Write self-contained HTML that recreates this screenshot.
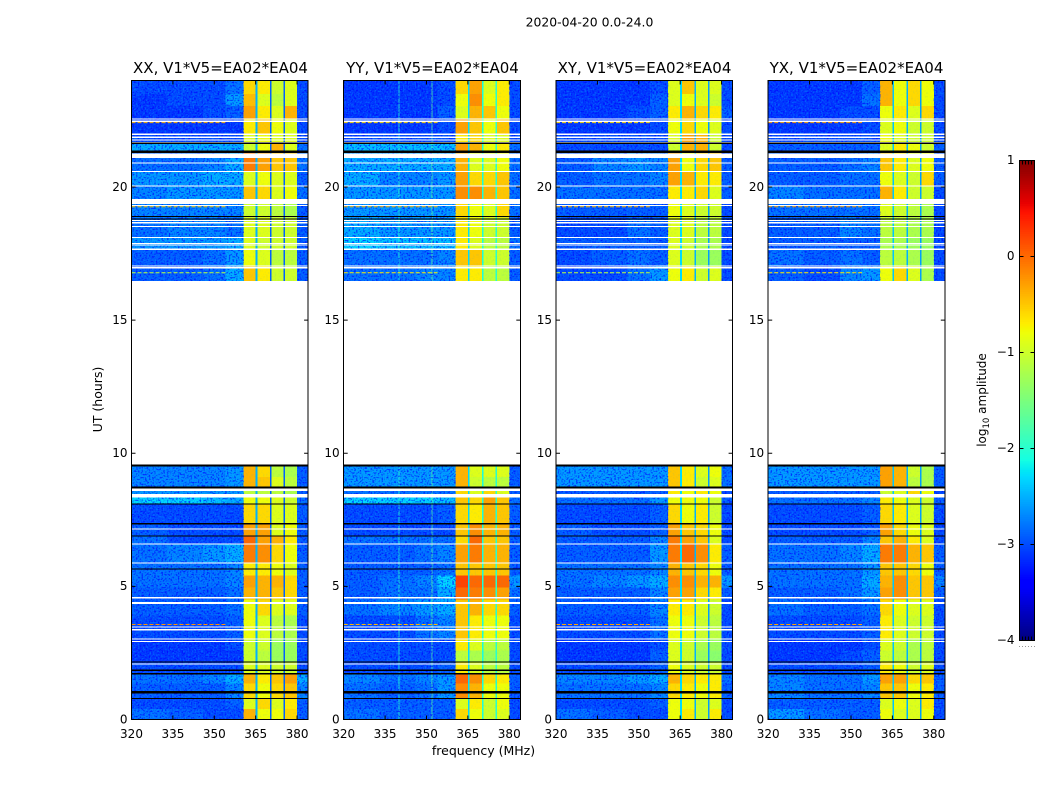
<!DOCTYPE html>
<html lang="en">
<head>
<meta charset="utf-8">
<title>2020-04-20 0.0-24.0 amplitude waterfall</title>
<style>
html,body{margin:0;padding:0;background:#fff;width:1050px;height:800px;overflow:hidden}
svg{display:block}
text{font-family:"DejaVu Sans","Liberation Sans",sans-serif;fill:#000}
.tick-label{font-size:12px}
.panel-title{font-size:15px;text-anchor:middle}
.axis-title{font-size:12.5px;text-anchor:middle}
</style>
</head>
<body>
<svg xmlns="http://www.w3.org/2000/svg" width="1050" height="800" viewBox="0 0 1050 800">
  <defs>
    <filter id="speckle-dark" x="0" y="0" width="100%" height="100%" color-interpolation-filters="sRGB">
      <feTurbulence type="fractalNoise" baseFrequency="0.55 0.62" numOctaves="1" seed="4"/>
      <feColorMatrix type="matrix" values="0 0 0 0 0  0 0 0 0 0  0 0 0 0 1  5 0 0 0 -2.45"/>
    </filter>
    <filter id="speckle-light" x="0" y="0" width="100%" height="100%" color-interpolation-filters="sRGB">
      <feTurbulence type="fractalNoise" baseFrequency="0.6 0.55" numOctaves="1" seed="11"/>
      <feColorMatrix type="matrix" values="0 0 0 0 0  0 0 0 0 0.62  0 0 0 0 1  0 5 0 0 -2.5"/>
    </filter>
  </defs>
  <text x="589.5" y="26.5" font-size="12.4" text-anchor="middle">2020-04-20 0.0-24.0</text>
  <g id="panel-xx"><text class="panel-title" x="220.5" y="73">XX, V1*V5=EA02*EA04</text></g>
  <g id="panel-yy"><text class="panel-title" x="432.5" y="73">YY, V1*V5=EA02*EA04</text></g>
  <g id="panel-xy"><text class="panel-title" x="644.5" y="73">XY, V1*V5=EA02*EA04</text></g>
  <g id="panel-yx"><text class="panel-title" x="856.5" y="73">YX, V1*V5=EA02*EA04</text></g>
  <text class="axis-title" x="483.5" y="755">frequency (MHz)</text>
  <text class="axis-title" transform="translate(102,399.5) rotate(-90)">UT (hours)</text>
  <text class="axis-title" transform="translate(986,400) rotate(-90)" font-size="12" style="font-size:12px">log<tspan font-size="8.5" dy="3">10</tspan><tspan dy="-3"> amplitude</tspan></text>
  <g id="colorbar"></g>
</svg>
<script>
// Frequency column edges (MHz) and time row edges (UT hours) of the heatmap blocks
const frequencyEdges = [320,333,346,354,360.6,365.3,370.4,375.3,380,384];
const rowHoursStart = [24,23.5,23.05,22.55,22,21.64,21.3,20.6,20.05,19.5,18.85,18.1,17.66,17.05,9.55,9.1,8.72,8.34,8.08,7.35,6.87,6.59,5.88,5.4,4.95,4.5,3.9,3,2.6,2.15,1.75,1.35,0.8,0.4];
const rowHoursEnd = [23.5,23.05,22.55,22,21.64,21.3,20.6,20.05,19.5,18.85,18.1,17.66,17.05,16.47,9.1,8.72,8.34,8.08,7.35,6.87,6.59,5.88,5.4,4.95,4.5,3.9,3,2.6,2.15,1.75,1.35,0.8,0.4,0];

// log10 amplitude for each row and frequency column
const xxValues = [
[-3,-3,-3,-2.8,-0.6,-0.7,-1,-0.9,-3],
[-3.1,-3,-3,-2.6,-0.45,-0.9,-1.1,-0.9,-3],
[-3.1,-3.1,-3,-2.9,-0.3,-0.7,-0.9,-0.4,-3],
[-3.1,-3.1,-3.1,-3.1,-0.7,-0.5,-0.8,-0.9,-3],
[-3,-3,-3,-3,-0.9,-0.8,-0.9,-0.9,-3],
[-2.5,-2.5,-2.5,-2.5,-1,-0.8,-0.4,-0.9,-2.8],
[-2.8,-2.8,-2.7,-2.5,-0.1,-0.3,-0.5,-0.5,-2.8],
[-2.6,-2.6,-2.5,-2.5,-0.9,-0.8,-0.9,-0.9,-2.9],
[-2.7,-2.6,-2.6,-2.6,-0.5,-0.6,-0.9,-0.8,-2.8],
[-2.7,-2.7,-2.7,-2.7,-1,-1,-1.1,-1.2,-2.9],
[-2.8,-2.7,-2.7,-2.8,-0.9,-0.9,-1,-1,-2.9],
[-2.6,-2.6,-2.6,-2.5,-0.9,-1,-1,-1,-2.9],
[-2.9,-2.9,-2.8,-2.6,-0.8,-0.9,-1.1,-1.1,-2.9],
[-2.9,-2.9,-2.8,-2.5,-0.5,-0.7,-1,-1,-2.9],
[-2.7,-2.7,-2.7,-2.6,-0.4,-0.6,-1.1,-1.2,-2.9],
[-2.7,-2.7,-2.7,-2.6,-0.4,-0.5,-0.9,-1.1,-2.9],
[-2.6,-2.6,-2.6,-2.6,-1.1,-1.1,-1.1,-1.2,-2.9],
[-2.3,-2.3,-2.4,-2.5,-0.8,-0.8,-0.9,-1,-2.8],
[-3,-3,-3,-3,-0.6,-0.6,-0.9,-0.9,-2.9],
[-2.9,-3,-3,-3,-0.3,-0.3,-0.9,-0.8,-2.9],
[-2.8,-3,-3,-3,0,-0.3,-0.4,-0.7,-2.9],
[-2.8,-2.7,-2.6,-2.5,-0.1,-0.2,-0.6,-0.8,-2.9],
[-2.8,-2.8,-2.8,-2.7,-0.7,-0.7,-0.8,-0.9,-2.9],
[-2.8,-2.8,-2.8,-2.7,-0.3,-0.4,-0.4,-0.6,-2.9],
[-2.9,-2.9,-2.9,-2.8,-0.4,-0.4,-0.5,-0.6,-2.9],
[-2.9,-2.9,-2.9,-2.8,-0.8,-0.6,-0.9,-0.9,-2.9],
[-3,-3,-3,-2.9,-0.8,-0.9,-1.1,-1.2,-3],
[-3.1,-3.1,-3.1,-3,-1,-1,-1.3,-1.3,-3],
[-3.1,-3.1,-3.1,-3.1,-1,-1.1,-1.3,-1.3,-3],
[-3,-3,-3,-3,-0.9,-0.9,-1,-1,-3],
[-2.8,-2.8,-2.7,-2.5,-0.4,-0.7,-0.5,-0.3,-2.5],
[-2.9,-2.9,-2.9,-2.7,-0.6,-0.8,-0.6,-0.5,-2.7],
[-3,-3,-3,-2.9,-0.9,-0.6,-0.9,-0.7,-2.9],
[-2.8,-2.9,-3,-3,-0.4,-0.8,-0.8,-0.6,-2.9]];
const yyValues = [
[-3.1,-3.1,-3.1,-3,-0.6,-0.3,-0.9,-0.7,-3],
[-3.1,-3.1,-3.1,-3,-0.8,-0.2,-0.8,-0.7,-3],
[-3.1,-3.1,-3.1,-2.9,-0.9,-0.4,-0.5,-0.8,-3],
[-3.1,-3.1,-3.1,-3,-0.3,-0.5,-0.8,-0.5,-3],
[-3,-3,-3,-3,-0.7,-0.6,-0.9,-0.9,-3],
[-2.4,-2.4,-2.4,-2.4,-0.3,-0.4,-0.8,-0.7,-2.8],
[-2.5,-2.5,-2.5,-2.5,-0.4,-0.9,-0.9,-0.8,-2.8],
[-2.5,-2.7,-2.7,-2.6,-0.3,-0.6,-0.6,-0.5,-2.8],
[-2.6,-2.6,-2.6,-2.6,-0.2,-0.2,-0.4,-0.5,-2.8],
[-2.6,-2.6,-2.6,-2.6,-0.6,-0.8,-0.9,-0.6,-2.8],
[-2.5,-2.6,-2.6,-2.6,-0.7,-0.8,-1,-1,-2.9],
[-2.3,-2.4,-2.4,-2.4,-0.7,-0.9,-1.1,-1.1,-2.8],
[-2.8,-2.8,-2.8,-2.7,-0.5,-0.5,-1,-1,-2.9],
[-2.8,-2.8,-2.7,-2.7,-0.7,-0.7,-1.1,-1.1,-2.9],
[-2.6,-2.6,-2.6,-2.6,-0.4,-0.9,-0.9,-0.9,-2.9],
[-2.6,-2.6,-2.6,-2.6,-0.4,-1,-1.1,-1.1,-2.9],
[-2.8,-2.8,-2.8,-2.8,-0.6,-0.9,-0.6,-0.9,-2.9],
[-2.3,-2.3,-2.3,-2.4,-0.5,-0.6,-0.3,-0.5,-2.8],
[-3,-3,-3,-2.9,-0.6,-0.7,-0.4,-0.5,-2.9],
[-3,-3,-3,-3,-0.5,-0.2,-0.4,-0.4,-2.9],
[-2.8,-2.8,-2.8,-2.8,-0.6,0,-0.5,-0.5,-2.9],
[-2.9,-2.9,-2.8,-2.7,-0.3,-0.1,-0.4,-0.4,-2.9],
[-2.9,-2.9,-2.9,-2.8,-0.5,-0.5,-0.5,-0.5,-2.9],
[-2.9,-2.8,-2.7,-2.3,0.2,0,0,0,-2.6],
[-2.9,-2.8,-2.8,-2.5,0,-0.1,-0.2,-0.3,-2.8],
[-2.8,-2.7,-2.6,-2.5,-0.5,-0.4,-0.6,-0.6,-2.9],
[-3,-3,-2.8,-2.7,-0.5,-0.7,-0.8,-0.8,-3],
[-3,-3,-3,-3,-0.7,-0.9,-1.1,-1.1,-3],
[-3,-3,-3,-3,-1.1,-1.2,-1.3,-1.2,-3],
[-3,-3,-3,-2.9,-0.7,-0.9,-1.1,-1.1,-3],
[-2.7,-2.8,-2.7,-2.6,0,-0.2,-0.6,-0.7,-2.9],
[-2.8,-2.9,-2.8,-2.6,-0.2,-0.4,-0.8,-0.8,-2.9],
[-2.9,-2.9,-2.9,-2.9,-0.9,-0.7,-1,-0.8,-3],
[-2.8,-2.9,-2.9,-2.9,-0.6,-0.8,-1,-0.9,-3]];
const xyValues = [
[-3.1,-3.1,-3.1,-3,-0.9,-0.5,-0.9,-0.9,-3],
[-3.1,-3.1,-3.1,-2.9,-0.9,-0.8,-0.9,-1,-3],
[-3.1,-3.1,-3,-2.9,-0.7,-0.4,-0.6,-0.7,-2.9],
[-3.1,-3.1,-3.1,-3,-0.8,-0.6,-0.8,-0.9,-3],
[-3,-3,-3,-3,-0.9,-0.3,-0.4,-1,-3],
[-3,-3,-3,-3,-1,-0.4,-0.4,-1,-3],
[-2.9,-2.7,-2.6,-2.7,-0.3,-0.8,-0.6,-0.5,-2.9],
[-2.9,-2.8,-2.8,-2.7,-0.3,-0.4,-0.7,-0.7,-2.9],
[-2.8,-2.8,-2.8,-2.8,-0.7,-0.7,-0.6,-0.9,-2.9],
[-2.9,-2.9,-2.9,-2.9,-0.8,-0.9,-1,-1,-3],
[-3,-3,-2.8,-2.9,-0.9,-0.9,-1.1,-1.1,-3],
[-2.9,-2.9,-2.9,-2.9,-0.9,-1,-1.2,-1.2,-3],
[-3,-2.9,-2.8,-2.9,-0.9,-1,-1.3,-1.3,-3],
[-3,-3,-2.8,-2.6,-0.8,-0.7,-1,-0.9,-3],
[-2.6,-2.6,-2.6,-2.6,-0.5,-0.7,-0.9,-0.8,-2.8],
[-2.6,-2.6,-2.6,-2.6,-0.5,-0.7,-1,-0.9,-2.8],
[-2.9,-2.9,-2.9,-2.9,-0.7,-0.8,-0.7,-0.8,-3],
[-2.8,-2.8,-2.8,-2.6,-0.8,-0.8,-0.8,-1,-2.9],
[-3,-3,-3,-2.9,-0.6,-0.8,-0.7,-1,-3],
[-2.9,-3,-3,-2.9,-0.3,-0.5,-0.6,-0.8,-3],
[-2.9,-2.9,-2.9,-2.7,-0.1,-0.3,-0.5,-0.9,-3],
[-2.9,-2.9,-2.9,-2.6,-0.1,0,-0.2,-0.7,-2.9],
[-2.8,-2.8,-2.8,-2.7,-0.4,-0.5,-0.6,-0.8,-2.9],
[-2.8,-2.7,-2.6,-2.5,-0.2,-0.2,-0.4,-0.4,-2.6],
[-2.9,-2.9,-2.9,-2.7,-0.3,-0.3,-0.6,-0.7,-2.9],
[-2.9,-2.9,-2.9,-2.7,-0.7,-0.7,-0.9,-1,-3],
[-3,-3,-3,-2.8,-0.8,-0.8,-1,-1.1,-3],
[-3.1,-3.1,-3.1,-3,-0.9,-1,-1.2,-1.3,-3],
[-3.1,-3.1,-3.1,-2.9,-0.9,-1,-1.3,-1.4,-3],
[-3,-3,-3,-2.9,-0.8,-0.9,-1,-1,-3],
[-2.7,-2.7,-2.6,-2.5,-0.4,-0.6,-0.7,-0.7,-2.8],
[-2.8,-2.8,-2.8,-2.7,-0.6,-0.7,-0.8,-0.7,-2.9],
[-3,-3,-3,-2.9,-0.8,-0.8,-1,-0.9,-3],
[-2.8,-2.9,-3,-3,-0.8,-0.7,-1,-0.7,-3]];
const yxValues = [
[-3.1,-3.1,-3.1,-2.9,-0.4,-0.8,-0.6,-0.8,-3],
[-3.1,-3.1,-3.1,-2.8,-0.4,-0.8,-0.6,-0.8,-3],
[-3.1,-3.1,-3,-3,-0.8,-0.7,-0.9,-0.6,-3],
[-3.1,-3.1,-3.1,-3,-0.9,-0.8,-1,-1,-3],
[-3,-3,-3,-3,-0.8,-0.9,-1,-1,-3],
[-2.9,-2.9,-2.9,-2.9,-0.9,-0.7,-0.8,-1,-2.9],
[-2.9,-2.9,-2.8,-2.7,-0.5,-0.7,-0.9,-0.8,-2.9],
[-2.9,-2.9,-2.8,-2.8,-0.8,-0.9,-1,-0.6,-2.9],
[-2.7,-2.8,-2.8,-2.8,-0.4,-0.7,-1,-1,-3],
[-2.8,-2.8,-2.8,-2.8,-0.9,-1,-1.1,-1.2,-3],
[-2.9,-2.9,-2.7,-2.8,-1.1,-1.1,-1.2,-1.2,-3],
[-2.9,-2.9,-2.9,-2.9,-1.2,-1.2,-1.3,-1.3,-3],
[-2.8,-2.9,-2.8,-2.9,-1.1,-1.1,-1.2,-1.3,-3],
[-2.9,-3,-2.7,-2.6,-0.8,-0.6,-0.9,-1.2,-3],
[-2.6,-2.6,-2.6,-2.6,-0.3,-0.4,-1,-1.2,-2.9],
[-2.6,-2.6,-2.6,-2.6,-0.3,-0.4,-1.1,-1.2,-2.9],
[-2.9,-2.9,-2.9,-2.9,-1,-0.9,-0.6,-0.8,-3],
[-2.8,-2.8,-2.8,-2.7,-0.7,-0.8,-0.9,-1,-2.9],
[-3,-3,-3,-2.9,-0.6,-0.7,-0.9,-1,-3],
[-3,-3,-3,-2.9,-0.3,-0.6,-0.8,-0.9,-3],
[-2.9,-2.9,-2.9,-2.7,-0.5,-0.4,-0.7,-0.9,-3],
[-2.8,-2.8,-2.7,-2.5,-0.1,-0.1,-0.4,-0.5,-2.9],
[-2.8,-2.8,-2.8,-2.6,-0.5,-0.5,-0.6,-0.8,-2.9],
[-2.8,-2.8,-2.8,-2.5,-0.4,-0.2,-0.5,-0.5,-2.7],
[-2.9,-2.9,-2.8,-2.6,-0.3,-0.2,-0.5,-0.5,-2.9],
[-2.8,-2.9,-2.9,-2.8,-0.6,-0.8,-0.9,-0.9,-3],
[-3,-3,-3,-2.9,-0.7,-0.9,-1,-1,-3],
[-3.1,-3.1,-3.1,-3,-0.9,-1,-1.2,-1.1,-3],
[-3.1,-3.1,-3,-2.9,-1,-1.1,-1.2,-1.1,-3],
[-3,-3,-3,-2.9,-0.7,-0.8,-1,-0.9,-3],
[-2.7,-2.8,-2.8,-2.6,-0.3,-0.3,-0.6,-0.5,-2.9],
[-2.7,-2.8,-2.8,-2.7,-0.5,-0.5,-0.8,-0.7,-2.9],
[-2.9,-2.9,-2.9,-2.9,-0.9,-0.8,-0.9,-0.7,-3],
[-2.6,-2.8,-2.9,-2.9,-0.8,-0.9,-0.9,-0.8,-3]];

// Narrow channel gaps between spectral windows: centres (MHz) and per-panel values
const gapFrequencies = [365.3,370.4,375.3];
const xxGapValues = [-2.5,-2.9,-2.9];
const yyGapValues = [-2.3,-2.1,-2.0];
const xyGapValues = [-2.3,-2.5,-2.6];
const yxGapValues = [-2.4,-2.5,-2.6];

// Persistent narrow-band channels seen in YY
const yyRfiFrequencies = [340,352];
const yyRfiValues = [-2.0,-1.7];

// Short bursts of strong broadband interference (UT hours) and per-panel amplitudes
const burstHours = [22.42,19.26,16.78,3.57];
const xxBurstValues = [-0.4,-0.5,-1.1,-0.2];
const yyBurstValues = [-0.6,-0.4,-0.7,-0.4];
const xyBurstValues = [-0.6,-0.4,-1.1,-0.3];
const yxBurstValues = [-0.3,-0.3,-0.7,-0.3];

// Flagged integrations (UT hours)
const whiteLineHours = [22.55,22.47,21.98,21.87,21.77,21.67,20.9,20.58,20.04,19.3,18.74,18.66,18.52,18.1,17.88,17.82,17.66,17.03,16.97,7.15,6.59,5.88,4.57,3.47,3.37,3.02,2.93,2.09];
const whiteBandStart = [21.26,19.54,16.47,8.68,8.47,4.42];
const whiteBandEnd = [21.08,19.36,9.55,8.58,8.33,4.34];
const blackLineHours = [21.64,18.89,18.8,9.55,8.72,8.09,7.35,6.89,5.65,2.16,1.85,1.72,1.04,0.79];
const blackBandStart = [21.37,9.58,8.74,1.07];
const blackBandEnd = [21.28,9.5,8.68,0.98];

// Axis ticks and colour bar
const frequencyTicks = [320,335,350,365,380];
const hourTicks = [0,5,10,15,20];
const colorbarTicks = [-4,-3,-2,-1,0,1];

const panelIds = ['xx','yy','xy','yx'];
const panelLefts = [131.5,343.7,556,768.2];
const panelWidth = 176.6;
const plotTop = 80.5;
const plotBottom = 719.5;
const freqMin = 320;
const freqMax = 384;
const hourMin = 0;
const hourMax = 24;
const ampMin = -4;
const ampMax = 1;
const cbLeft = 1019.5;
const cbRight = 1034.5;
const cbTop = 160.5;
const cbBottom = 640.5;
const SVGNS = 'http://www.w3.org/2000/svg';

function xScale(freq, left) {
  return left + (freq - freqMin) / (freqMax - freqMin) * panelWidth;
}
function yScale(hour) {
  return plotBottom - (hour - hourMin) / (hourMax - hourMin) * (plotBottom - plotTop);
}
function ampScale(v) {
  return cbBottom - (v - ampMin) / (ampMax - ampMin) * (cbBottom - cbTop);
}
function lerpSegments(t, knots) {
  for (let i = 1; i < knots.length; i++) {
    if (t <= knots[i][0]) {
      const a = knots[i - 1];
      const b = knots[i];
      return a[1] + (b[1] - a[1]) * (t - a[0]) / (b[0] - a[0]);
    }
  }
  return knots[knots.length - 1][1];
}
function jet(v) {
  const t = Math.max(0, Math.min(1, (v - ampMin) / (ampMax - ampMin)));
  const r = lerpSegments(t, [[0,0],[0.35,0],[0.66,1],[0.89,1],[1,0.5]]);
  const g = lerpSegments(t, [[0,0],[0.125,0],[0.375,1],[0.64,1],[0.91,0],[1,0]]);
  const b = lerpSegments(t, [[0,0.5],[0.11,1],[0.34,1],[0.65,0],[1,0]]);
  return 'rgb(' + Math.round(r * 255) + ',' + Math.round(g * 255) + ',' + Math.round(b * 255) + ')';
}
function makeRect(parent, x, y, w, h, fill) {
  const el = document.createElementNS(SVGNS, 'rect');
  el.setAttribute('x', x);
  el.setAttribute('y', y);
  el.setAttribute('width', w);
  el.setAttribute('height', h);
  el.setAttribute('fill', fill);
  el.setAttribute('shape-rendering', 'crispEdges');
  parent.appendChild(el);
  return el;
}
function makeLine(parent, x1, y1, x2, y2) {
  const el = document.createElementNS(SVGNS, 'line');
  el.setAttribute('x1', x1);
  el.setAttribute('y1', y1);
  el.setAttribute('x2', x2);
  el.setAttribute('y2', y2);
  el.setAttribute('stroke', '#000');
  el.setAttribute('stroke-width', '1');
  parent.appendChild(el);
  return el;
}
function makeText(parent, x, y, anchor, content) {
  const el = document.createElementNS(SVGNS, 'text');
  el.setAttribute('x', x);
  el.setAttribute('y', y);
  el.setAttribute('text-anchor', anchor);
  el.setAttribute('class', 'tick-label');
  el.textContent = content;
  parent.appendChild(el);
  return el;
}
function tickText(v) {
  return v < 0 ? '\u2212' + Math.abs(v) : String(v);
}
function addTexture(g, x0, x1, filterId, opacity) {
  const layer = makeRect(g, x0, plotTop, x1 - x0, plotBottom - plotTop, '#000');
  layer.setAttribute('filter', 'url(#' + filterId + ')');
  layer.setAttribute('opacity', opacity);
  
  
}

function drawPanel(index, values, gapValues, rfiFreqs, rfiValues, burstValues) {
  const id = panelIds[index];
  const left = panelLefts[index];
  const right = left + panelWidth;
  const g = document.getElementById('panel-' + id);

  values.forEach(function (row, r) {
    row.forEach(function (v, c) {
      const x0 = xScale(frequencyEdges[c], left);
      const x1 = xScale(frequencyEdges[c + 1], left);
      const y0 = yScale(rowHoursStart[r]);
      const y1 = yScale(rowHoursEnd[r]);
      const cell = makeRect(g, x0, y0, x1 - x0 + 0.3, y1 - y0 + 0.3, jet(v));
      
      
    });
  });

  gapFrequencies.forEach(function (f, i) {
    const gap = makeRect(g, xScale(f, left) - 0.8, yScale(24), 1.6, yScale(0) - yScale(24), jet(gapValues[i]));
    
    
  });

  rfiFreqs.forEach(function (f, i) {
    const rfi = makeRect(g, xScale(f, left) - 0.5, yScale(24), 1, yScale(0) - yScale(24), jet(rfiValues[i]));
    rfi.setAttribute('opacity', '0.8');
    
    
  });

  const bgEnd = xScale(frequencyEdges[4], left);
  const rightStart = xScale(frequencyEdges[8], left);
  addTexture(g, left, bgEnd, 'speckle-dark', '0.7');
  addTexture(g, left, bgEnd, 'speckle-light', '0.4');
  addTexture(g, rightStart, right, 'speckle-dark', '0.7');
  addTexture(g, rightStart, right, 'speckle-light', '0.35');
  addTexture(g, bgEnd, rightStart, 'speckle-light', '0.07');

  burstHours.forEach(function (h, i) {
    const burst = makeLine(g, left, yScale(h), xScale(354, left), yScale(h));
    burst.setAttribute('stroke', jet(burstValues[i]));
    burst.setAttribute('stroke-dasharray', '4 2');
    
    
  });

  whiteLineHours.forEach(function (h) {
    const flag = makeRect(g, left, yScale(h) - 0.6, panelWidth, 1.2, '#fff');
    
    
  });
  whiteBandStart.forEach(function (h, i) {
    const flag = makeRect(g, left, yScale(h), panelWidth, yScale(whiteBandEnd[i]) - yScale(h), '#fff');
    
    
  });
  blackLineHours.forEach(function (h) {
    const flag = makeRect(g, left, yScale(h) - 0.6, panelWidth, 1.2, '#000');
    
    
  });
  blackBandStart.forEach(function (h, i) {
    const flag = makeRect(g, left, yScale(h), panelWidth, yScale(blackBandEnd[i]) - yScale(h), '#000');
    
    
  });

  const frame = makeRect(g, left, plotTop, panelWidth, plotBottom - plotTop, 'none');
  frame.setAttribute('stroke', '#000');
  frame.setAttribute('stroke-width', '1');
  
  

  frequencyTicks.forEach(function (f) {
    const x = xScale(f, left);
    const bottomTick = makeLine(g, x, plotBottom, x, plotBottom - 4);
    
    
    const topTick = makeLine(g, x, plotTop, x, plotTop + 4);
    
    
    const label = makeText(g, x, 738, 'middle', String(f));
    
    
  });
  hourTicks.forEach(function (h) {
    const y = yScale(h);
    const leftTick = makeLine(g, left, y, left + 4, y);
    
    
    const rightTick = makeLine(g, right, y, right - 4, y);
    
    
    const label = makeText(g, left - 4, y + 3.8, 'end', String(h));
    
    
  });

  const title = g.querySelector('.panel-title');
  g.appendChild(title);
}

function drawColorbar() {
  const g = document.getElementById('colorbar');
  const steps = 256;
  for (let i = 0; i < steps; i++) {
    const v0 = ampMin + (ampMax - ampMin) * i / steps;
    const v1 = ampMin + (ampMax - ampMin) * (i + 1) / steps;
    const seg = makeRect(g, cbLeft, ampScale(v1), cbRight - cbLeft, ampScale(v0) - ampScale(v1) + 0.3, jet(v0));
    
    
  }
  const frame = makeRect(g, cbLeft, cbTop, cbRight - cbLeft, cbBottom - cbTop, 'none');
  frame.setAttribute('stroke', '#000');
  frame.setAttribute('stroke-width', '1');
  
  
  colorbarTicks.forEach(function (v) {
    const y = ampScale(v);
    const tickL = makeLine(g, cbLeft, y, cbLeft + 4, y);
    
    
    const tickR = makeLine(g, cbRight, y, cbRight - 4, y);
    
    
    const label = makeText(g, cbLeft - 5, y + 3.5, 'end', tickText(v));
    
    
  });
  for (let i = 0; i <= 5; i++) {
    const x = cbLeft + (cbRight - cbLeft) * i / 5;
    const topMark = makeLine(g, x, cbTop, x, cbTop + 4);
    
    
    const bottomMark = makeLine(g, x, cbBottom, x, cbBottom - 4);
    
    
    const dot = makeRect(g, x - 0.5, 646, 1, 1, '#999');
    
    
  }
}

drawPanel(0, xxValues, xxGapValues, [], [], xxBurstValues);
drawPanel(1, yyValues, yyGapValues, yyRfiFrequencies, yyRfiValues, yyBurstValues);
drawPanel(2, xyValues, xyGapValues, [], [], xyBurstValues);
drawPanel(3, yxValues, yxGapValues, [], [], yxBurstValues);
drawColorbar();
</script>
</body>
</html>
